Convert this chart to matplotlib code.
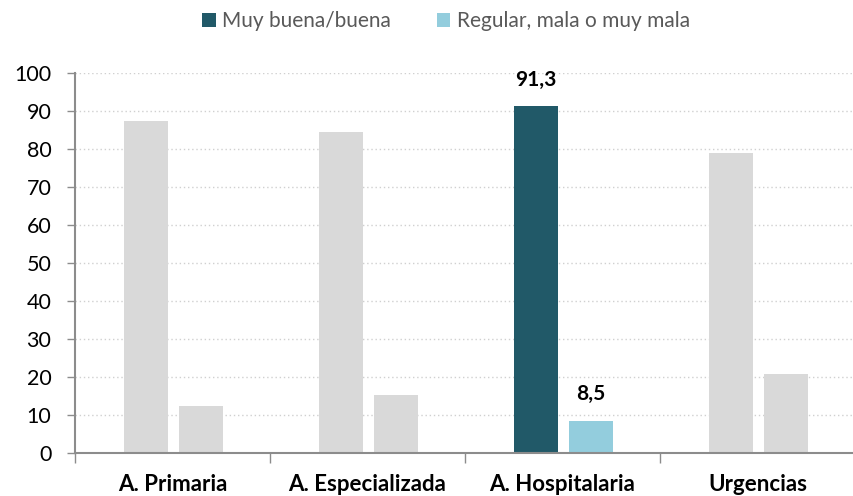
import matplotlib
matplotlib.use("Agg")
import matplotlib.pyplot as plt
from matplotlib.patches import Patch
import numpy as np

categories = ["A. Primaria", "A. Especializada", "A. Hospitalaria", "Urgencias"]
buena = [87.4, 84.6, 91.3, 79.0]
mala = [12.4, 15.3, 8.5, 20.9]
series_names = ["Muy buena/buena", "Regular, mala o muy mala"]
highlight = "A. Hospitalaria"
labels_buena = ["", "", "91,3", ""]
labels_mala = ["", "", "8,5", ""]

DARK = "#215968"
LIGHT = "#93CDDD"
GRAY = "#D9D9D9"

plt.rcParams['font.family'] = ['Lato', 'DejaVu Sans']

fig = plt.figure(figsize=(8.54, 4.96), dpi=100)
ax = fig.add_axes([75/854, 1-453.3/496, 780/854, 380/496])

x = np.arange(len(categories)) + 0.5
w = 0.226
c1 = [DARK if c == highlight else GRAY for c in categories]
c2 = [LIGHT if c == highlight else GRAY for c in categories]
b1 = ax.bar(x - 0.136, buena, width=w, color=c1, zorder=3)
b2 = ax.bar(x + 0.146, mala, width=w, color=c2, zorder=3)
ax.bar_label(b1, labels=labels_buena, padding=12, fontsize=15, fontweight='bold', color='black')
ax.bar_label(b2, labels=labels_mala, padding=12, fontsize=15, fontweight='bold', color='black')

ax.set_xlim(0, 4)
ax.set_ylim(0, 100)
ax.set_yticks(np.arange(0, 101, 10))
ax.tick_params(axis='y', labelsize=15.5, colors='black', length=6, width=1, color='#8c8c8c', pad=11)
ax.set_xticks(x)
ax.set_xticklabels(categories, fontsize=16, fontweight='bold')
ax.tick_params(axis='x', length=0, pad=15, labelcolor='black')
ax.set_xticks(np.arange(0, 5), minor=True)
ax.tick_params(axis='x', which='minor', length=7, width=1, color='#8c8c8c')

ax.grid(axis='y', linestyle=(0, (1, 2)), color='#d0d0d0', linewidth=1, zorder=0)
for s in ['top', 'right']:
    ax.spines[s].set_visible(False)
for s in ['left', 'bottom']:
    ax.spines[s].set_color('#8c8c8c')
    ax.spines[s].set_linewidth(1.5)
ax.spines['bottom'].set_zorder(4)

handles = [Patch(facecolor=DARK), Patch(facecolor=LIGHT)]
fig.legend(handles, series_names, loc='center', bbox_to_anchor=(446/854, 1-21/496),
           ncol=2, frameon=False, fontsize=15, labelcolor='#595959',
           handlelength=0.65, handleheight=0.65, handletextpad=0.3, columnspacing=2.2)

fig.savefig("out.png", dpi=100)
